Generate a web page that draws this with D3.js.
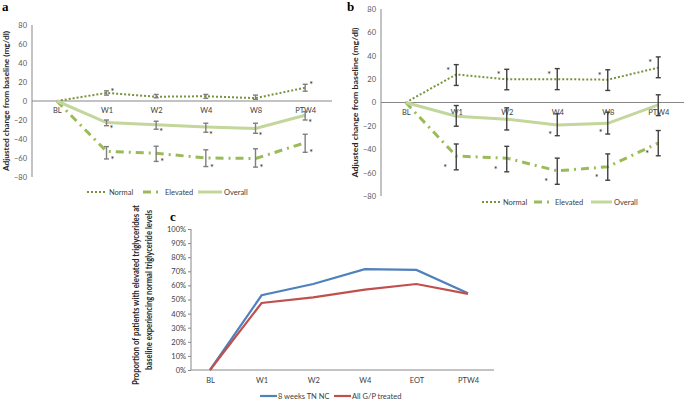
<!DOCTYPE html>
<html><head><meta charset="utf-8">
<script src="https://cdn.jsdelivr.net/npm/d3@7"></script>
<style>
body{margin:0;background:#fff;}
svg{display:block;font-family:Lato,"Liberation Sans",sans-serif;}
</style></head>
<body>
<svg id="chart" width="685" height="401"></svg>
<script>
// ---------- data ----------
const catsAB = ["BL","W1","W2","W4","W8","PTW4"];
const catsC = ["BL","W1","W2","W4","EOT","PTW4"];
const ticksAB = [-80,-60,-40,-20,0,20,40,60,80];
const ticksC = [0,10,20,30,40,50,60,70,80,90,100];
const seriesNames = ["Normal","Elevated","Overall"];

// Panel a
const aNormal = [0, 8.5, 4.5, 5, 3, 14];
const aNormalLo = [null, 6.2, 3.4, 2.8, 1.7, 10.3];
const aNormalHi = [null, 10.7, 6.9, 6.9, 6.2, 17.6];
const aNormalStar = [0,1,0,0,0,1];
const aElev = [0, -53, -55, -60, -60.5, -44];
const aElevLo = [null, -61, -63.6, -69, -69.6, -54];
const aElevHi = [null, -48, -47.6, -51.4, -50.3, -35];
const aElevStar = [0,1,1,1,1,1];
const aOver = [0, -22.7, -25, -27.3, -29, -15];
const aOverLo = [null, -26, -29.7, -32.9, -34, -20];
const aOverHi = [null, -20, -21.3, -23.4, -23.4, -11.2];
const aOverStar = [0,1,1,1,1,1];

// Panel b
const bNormal = [0, 24, 19.8, 20, 19.5, 29.8];
const bNormalLo = [null, 14.6, 10.9, 11, 10.3, 21.2];
const bNormalHi = [null, 32.4, 28.4, 29, 28, 39];
const bNormalStar = [0,1,1,1,1,1];
const bElev = [0, -45.8, -47.6, -58.5, -55, -34.7];
const bElevLo = [null, -57.6, -59.3, -70, -66.5, -45.6];
const bElevHi = [null, -35.5, -37.5, -47.6, -44, -24];
const bElevStar = [0,1,1,1,1,1];
const bOver = [0, -11.7, -14.3, -19.2, -17.8, -2];
const bOverLo = [null, -20.3, -23.5, -28.4, -27, -11.2];
const bOverHi = [null, -2.6, -4.6, -9.7, -8.3, 6.6];
const bOverStar = [0,0,0,1,1,0];

// Panel c
const cTN = [0, 53, 61, 71.5, 71, 54.5];
const cAll = [0, 47.5, 51.5, 57, 61, 54];
const cNames = ["8 weeks TN NC","All G/P treated"];

// ---------- drawing ----------
const svg = d3.select("#chart");
const AX = "#878787", TXT = "#595959";
const colNormal = "#77933c", colElev = "#9bbb59", colOver = "#c3d69b";
const styles = {
  Normal: {color: colNormal, width: 2, dash: "2,2"},
  Elevated: {color: colElev, width: 3, dash: "8,5,2,5"},
  Overall: {color: colOver, width: 3, dash: null}
};

function drawPanel(cfg){
  const g = svg.append("g");
  const x = d3.scalePoint().domain(catsAB).range(cfg.xr).padding(0.5);
  const y = d3.scaleLinear().domain([-80,80]).range(cfg.yr);
  // y axis
  g.append("line").attr("x1",cfg.axX).attr("x2",cfg.axX).attr("y1",y(80)).attr("y2",y(-80)).attr("stroke",AX).attr("stroke-width",1);
  g.append("line").attr("x1",cfg.axX).attr("x2",cfg.xEnd).attr("y1",y(0)).attr("y2",y(0)).attr("stroke",AX).attr("stroke-width",1);
  const yAxis = d3.axisLeft(y).tickValues(ticksAB).tickSize(0).tickPadding(0);
  const ya = g.append("g").attr("transform",`translate(${cfg.axX-5},0)`).call(yAxis);
  ya.select(".domain").remove();
  ya.selectAll("text").attr("fill",TXT).attr("font-size",7.5).attr("font-family","Lato,sans-serif");
  // x labels
  const xAxis = d3.axisBottom(x).tickSize(0).tickPadding(0);
  const xa = g.append("g").attr("transform",`translate(0,${y(0)+7})`).call(xAxis);
  xa.select(".domain").remove();
  xa.selectAll("text").attr("fill","#404040").attr("font-size",7.5).attr("font-family","Lato,sans-serif");
  // y title
  g.append("text").attr("transform",`translate(${cfg.titleX},${(y(80)+y(-80))/2}) rotate(-90)`)
    .attr("text-anchor","middle").attr("font-size",8).attr("font-weight","bold").attr("fill","#262626")
    .attr("textLength",cfg.titleLen).attr("lengthAdjust","spacingAndGlyphs")
    .text("Adjusted change from baseline (mg/dl)");
  // panel letter
  g.append("text").attr("x",cfg.letterX).attr("y",cfg.letterY).attr("font-family","'Liberation Serif',serif")
    .attr("font-weight","bold").attr("font-size",13).attr("fill","#000").text(cfg.letter);

  const line = d3.line().x((d,i)=>x(catsAB[i])).y(d=>y(d));
  cfg.series.forEach(s=>{
    const st = styles[s.name];
    g.append("path").datum(s.vals).attr("d",line).attr("fill","none")
      .attr("stroke",st.color).attr("stroke-width",st.width)
      .attr("stroke-dasharray",st.dash);
  });
  cfg.series.forEach(s=>{
    s.vals.forEach((v,i)=>{
      if(s.lo[i]==null) return;
      const cx = x(catsAB[i]);
      const eb = g.append("g").attr("stroke",cfg.ebColor).attr("stroke-width",1.4);
      eb.append("line").attr("x1",cx).attr("x2",cx).attr("y1",y(s.hi[i])).attr("y2",y(s.lo[i]));
      eb.append("line").attr("x1",cx-2.5).attr("x2",cx+2.5).attr("y1",y(s.hi[i])).attr("y2",y(s.hi[i]));
      eb.append("line").attr("x1",cx-2.5).attr("x2",cx+2.5).attr("y1",y(s.lo[i])).attr("y2",y(s.lo[i]));
      if(s.star[i]){
        const top = s.starPos==="top";
        const yy = top ? y(s.hi[i]) + s.starDy : y(s.lo[i]) + s.starDy;
        g.append("text").attr("x",cx+s.starDx).attr("y",yy+5).attr("text-anchor","middle")
          .attr("font-size",9).attr("fill","#262626").text("*");
      }
    });
  });
  // legend
  const lg = g.append("g").attr("transform",`translate(0,${cfg.legY})`);
  cfg.legend.forEach((it,k)=>{
    const st = styles[seriesNames[k]];
    lg.append("line").attr("x1",it[0]).attr("x2",it[1]).attr("y1",0).attr("y2",0)
      .attr("stroke",st.color).attr("stroke-width",st.width).attr("stroke-dasharray",st.dash);
    lg.append("text").attr("x",it[1]+2).attr("y",3).attr("font-size",7.5).attr("fill","#404040").text(seriesNames[k]);
  });
}

drawPanel({
  letter:"a", letterX:2, letterY:11,
  xr:[32,330], yr:[177,25], axX:32, xEnd:332, titleX:9, titleLen:140,
  ebColor:"#7f7f7f", legY:192,
  legend:[[87,107],[143,163],[198,222]],
  series:[
    {name:"Normal", vals:aNormal, lo:aNormalLo, hi:aNormalHi, star:aNormalStar, starPos:"top", starDx:6, starDy:-1},
    {name:"Elevated", vals:aElev, lo:aElevLo, hi:aElevHi, star:aElevStar, starPos:"bottom", starDx:6, starDy:-1},
    {name:"Overall", vals:aOver, lo:aOverLo, hi:aOverHi, star:aOverStar, starPos:"bottom", starDx:5, starDy:1}
  ]
});

drawPanel({
  letter:"b", letterX:347, letterY:11,
  xr:[380.5,683.5], yr:[196,9], axX:381, xEnd:684, titleX:358, titleLen:150,
  ebColor:"#404040", legY:202,
  legend:[[482,501],[534,553],[591,612]],
  series:[
    {name:"Normal", vals:bNormal, lo:bNormalLo, hi:bNormalHi, star:bNormalStar, starPos:"top", starDx:-8, starDy:4},
    {name:"Elevated", vals:bElev, lo:bElevLo, hi:bElevHi, star:bElevStar, starPos:"bottom", starDx:-11, starDy:-4},
    {name:"Overall", vals:bOver, lo:bOverLo, hi:bOverHi, star:bOverStar, starPos:"bottom", starDx:-7, starDy:-3}
  ]
});

// Panel c
(function(){
  const g = svg.append("g");
  const x = d3.scalePoint().domain(catsC).range([184.2,493.8]).padding(0.5);
  const y = d3.scaleLinear().domain([0,100]).range([370,229]);
  const axX = 191;
  g.append("line").attr("x1",axX).attr("x2",axX).attr("y1",y(100)).attr("y2",y(0)).attr("stroke",AX);
  g.append("line").attr("x1",axX).attr("x2",494).attr("y1",y(0)).attr("y2",y(0)).attr("stroke",AX);
  const ya = g.append("g").attr("transform",`translate(${axX},0)`)
    .call(d3.axisLeft(y).tickValues(ticksC).tickSize(3).tickPadding(2).tickFormat(d=>d+"%"));
  ya.select(".domain").remove();
  ya.selectAll("line").attr("stroke",AX);
  ya.selectAll("text").attr("fill","#404040").attr("font-size",7.5).attr("font-family","Lato,sans-serif");
  const xa = g.append("g").attr("transform",`translate(0,${y(0)+8})`).call(d3.axisBottom(x).tickSize(0).tickPadding(0));
  xa.select(".domain").remove();
  xa.selectAll("text").attr("fill","#404040").attr("font-size",7.5).attr("font-family","Lato,sans-serif");
  const titleLines = ["Proportion of patients with elevated triglycerides at","baseline experiencing normal triglyceride levels"];
  const lens = [180,160];
  titleLines.forEach((t,k)=>{
    g.append("text").attr("transform",`translate(${139+k*13},${k===0?295:290}) rotate(-90)`)
      .attr("text-anchor","middle").attr("font-size",8.5).attr("font-weight","bold").attr("fill","#262626")
      .attr("textLength",lens[k]).attr("lengthAdjust","spacingAndGlyphs").text(t);
  });
  g.append("text").attr("x",170).attr("y",221).attr("font-family","'Liberation Serif',serif")
    .attr("font-weight","bold").attr("font-size",13).attr("fill","#000").text("c");
  const line = d3.line().x((d,i)=>x(catsC[i])).y(d=>y(d));
  const cols = ["#4f81bd","#c0504d"];
  [cTN,cAll].forEach((s,k)=>{
    g.append("path").datum(s).attr("d",line).attr("fill","none").attr("stroke",cols[k]).attr("stroke-width",2.2);
  });
  const leg = [[260,277],[334,351]];
  cNames.forEach((n,k)=>{
    g.append("line").attr("x1",leg[k][0]).attr("x2",leg[k][1]).attr("y1",396).attr("y2",396).attr("stroke",cols[k]).attr("stroke-width",2.2);
    g.append("text").attr("x",leg[k][1]+1).attr("y",399).attr("font-size",7.5).attr("fill","#404040").text(n);
  });
})();
</script>
</body></html>
